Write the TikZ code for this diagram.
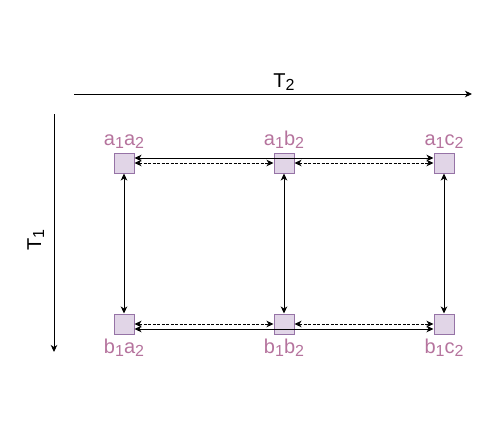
\documentclass[tikz,border=0pt]{standalone}
\usepackage{fontspec}
\setmainfont{Liberation Sans}
\usetikzlibrary{arrows.meta}
\definecolor{boxfill}{HTML}{E1D5E7}
\definecolor{boxline}{HTML}{9673A6}
\definecolor{lblcol}{HTML}{B5739D}
\newcommand\subs[1]{\raisebox{-3pt}{\fontsize{16}{16}\selectfont #1}}
\begin{document}
\begin{tikzpicture}[x=1pt,y=-1pt,
  statebox/.style={draw=boxline,fill=boxfill,line width=1pt,minimum width=20pt,minimum height=20pt,inner sep=0pt},
  lbl/.style={text=lblcol,font=\fontsize{20}{22}\selectfont,anchor=base,inner sep=0pt},
  axlbl/.style={font=\fontsize{20}{22}\selectfont,anchor=base,inner sep=0pt},
  tip/.style={-{Stealth[length=7pt,width=6.5pt,inset=2pt]}},
  btip/.style={{Stealth[length=7pt,width=6.5pt,inset=2pt]}-{Stealth[length=7pt,width=6.5pt,inset=2pt]}},
  conn/.style={line width=1pt,btip},
  dconn/.style={line width=1pt,btip,dash pattern=on 3pt off 1.5pt}]
\useasboundingbox (0,0) rectangle (502,431);
% axes
\coordinate (t2s) at (74,94);
\coordinate (t2e) at (472,94);
\coordinate (t1s) at (54,114);
\coordinate (t1e) at (54,352);
\draw[line width=1pt,tip] (t2s) -- (t2e);
\draw[line width=1pt,tip] (t1s) -- (t1e);
\node[axlbl] (T2) at (284,87) {T\subs{2}};
\node[axlbl,rotate=90] (T1) at (41,240) {T\subs{1}};
% boxes
\node[statebox] (a1a2) at (124,163) {};
\node[statebox] (a1b2) at (284,163) {};
\node[statebox] (a1c2) at (444,163) {};
\node[statebox] (b1a2) at (124,324) {};
\node[statebox] (b1b2) at (284,324) {};
\node[statebox] (b1c2) at (444,324) {};
% labels
\node[lbl] (la1a2) at (124,145) {a\subs{1}a\subs{2}};
\node[lbl] (la1b2) at (284,145) {a\subs{1}b\subs{2}};
\node[lbl] (la1c2) at (444,145) {a\subs{1}c\subs{2}};
\node[lbl] (lb1a2) at (124,353) {b\subs{1}a\subs{2}};
\node[lbl] (lb1b2) at (284,353) {b\subs{1}b\subs{2}};
\node[lbl] (lb1c2) at (444,353) {b\subs{1}c\subs{2}};
% top row
\draw[conn] ([yshift=5pt]a1a2.east) -- ([yshift=5pt]a1c2.west);
\draw[dconn] (a1a2.east) -- (a1b2.west);
\draw[dconn] (a1b2.east) -- (a1c2.west);
% bottom row
\draw[conn] ([yshift=-5pt]b1a2.east) -- ([yshift=-5pt]b1c2.west);
\draw[dconn] (b1a2.east) -- (b1b2.west);
\draw[dconn] (b1b2.east) -- (b1c2.west);
% verticals
\draw[conn] (a1a2.south) -- (b1a2.north);
\draw[conn] (a1b2.south) -- (b1b2.north);
\draw[conn] (a1c2.south) -- (b1c2.north);
\end{tikzpicture}
\end{document}
